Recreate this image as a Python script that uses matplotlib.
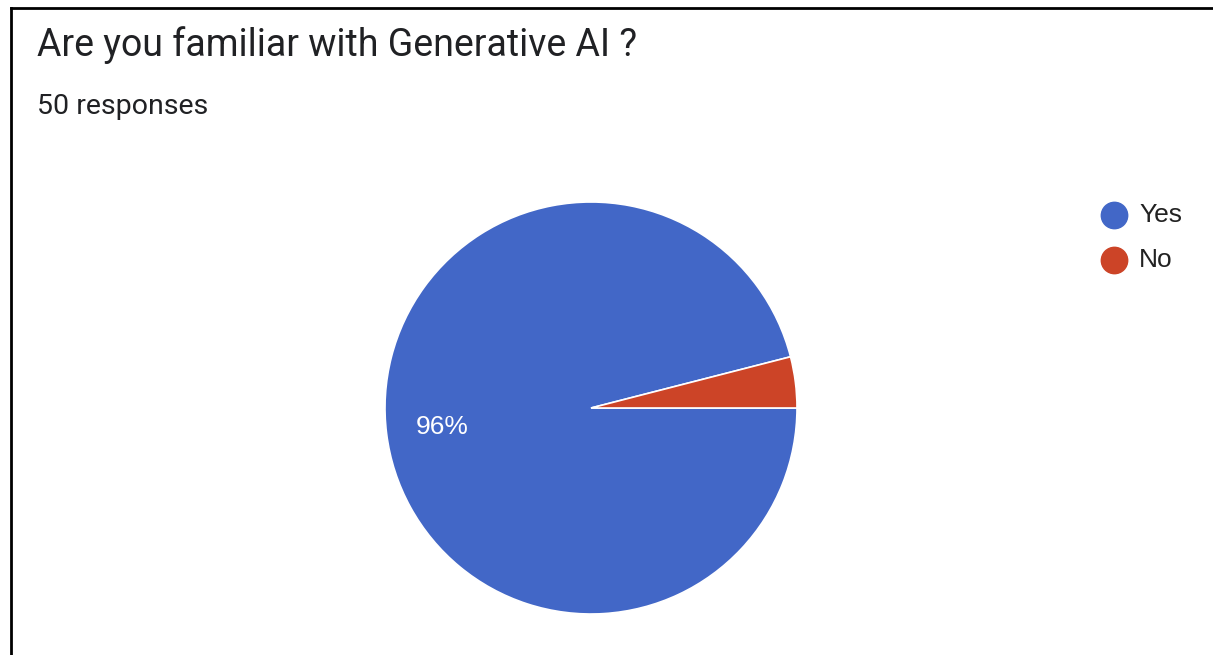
import matplotlib.pyplot as plt
from matplotlib.lines import Line2D

labels = ["Yes", "No"]
values = [48, 2]
colors = ["#4267c7", "#cc4427"]
title = "Are you familiar with Generative AI ?"
subtitle = "50 responses"

W, H = 1213, 655
fig = plt.figure(figsize=(W / 100, H / 100), dpi=100)
fig.patch.set_facecolor("white")

# frame lines (left + top only, like the screenshot crop)
fig.add_artist(Line2D([11 / W, 11 / W], [0, 1 - 8 / H], color="black", lw=2))
fig.add_artist(Line2D([11 / W, 1], [1 - 8 / H, 1 - 8 / H], color="black", lw=2))

fig.text(37 / W, 1 - 56 / H, title, fontsize=27, family="Roboto",
         color="#202124", va="baseline")
fig.text(37 / W, 1 - 114 / H, subtitle, fontsize=20.5, family="Roboto",
         color="#202124", va="baseline")

# pie centre ~ (591, 408), radius ~ 206
cx, cy, r = 591, 408, 206
ax = fig.add_axes([(cx - r) / W, 1 - (cy + r) / H, 2 * r / W, 2 * r / H])


def fmt(p):
    return "%.0f%%" % p if p > 5 else ""


wedges, texts, autotexts = ax.pie(
    values, colors=colors, startangle=0, counterclock=False,
    autopct=fmt, pctdistance=0.73,
    wedgeprops=dict(edgecolor="white", linewidth=1.2),
    textprops=dict(color="white", fontsize=19, family="Liberation Sans"))
ax.set_xlim(-1, 1)
ax.set_ylim(-1, 1)
ax.set_aspect("equal")
ax.axis("off")

# legend drawn by hand: dot + label, one row per category
for i, (lab, c) in enumerate(zip(labels, colors)):
    y = 1 - (215 + 45 * i) / H
    fig.add_artist(Line2D([1114 / W], [y], marker="o", markersize=19,
                          markerfacecolor=c, markeredgecolor=c, linestyle="none"))
    fig.text(1139 / W, y, lab, fontsize=19, family="Liberation Sans",
             color="#222222", va="center")

fig.savefig("out.png", dpi=100)
